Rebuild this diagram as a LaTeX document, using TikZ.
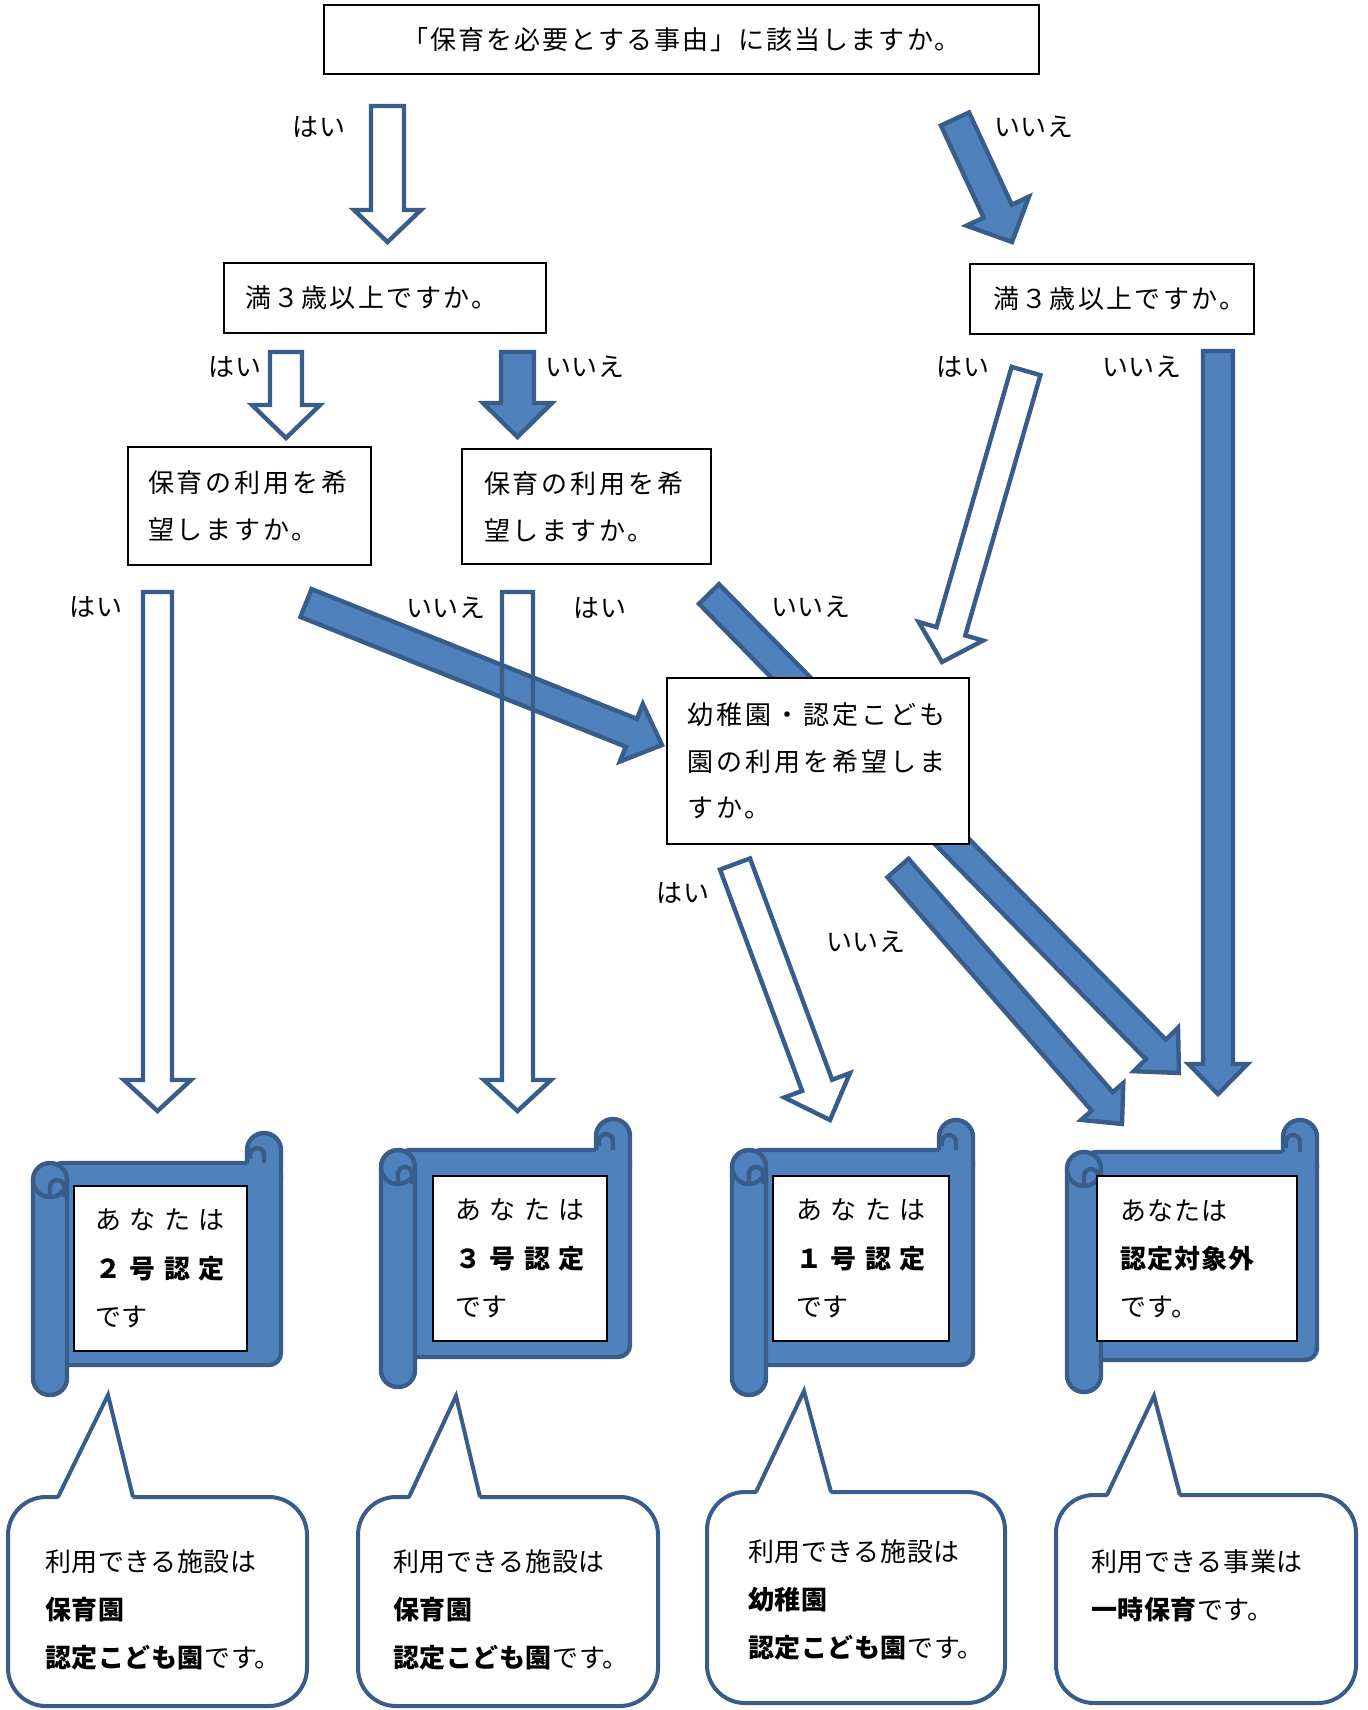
\documentclass[tikz,border=0pt]{standalone}
\usepackage{fontspec}
\setmainfont{Noto Sans CJK JP}
\newfontfamily\jpT[LetterSpace=8]{Noto Sans CJK JP}
\newfontfamily\jpA[LetterSpace=1]{Noto Sans CJK JP}
\newfontfamily\jpQ[LetterSpace=9]{Noto Sans CJK JP}
\newfontfamily\jpC[LetterSpace=11]{Noto Sans CJK JP}
\newfontfamily\jpE[LetterSpace=12]{Noto Sans CJK JP}
\newfontfamily\jpS[LetterSpace=33]{Noto Sans CJK JP}
\newfontfamily\jpF[LetterSpace=4]{Noto Sans CJK JP}
\newfontfamily\jpB[LetterSpace=2]{Noto Sans CJK JP}
\usetikzlibrary{calc}
\definecolor{ablue}{RGB}{79,129,189}
\definecolor{adark}{RGB}{56,93,138}
\tikzset{
  x=0.5pt, y=-0.5pt,
  qbox/.style={draw=black, line width=1pt, fill=white, inner ysep=0pt, align=left},
  lab/.style={inner sep=0pt, font=\jpA\fontsize{13pt}{16pt}\selectfont},
  btext/.style={inner sep=0pt, anchor=west, align=left, font=\jpB\fontsize{13pt}{24pt}\selectfont},
  wArrow/.style={draw=adark, fill=white, line width=2.2pt, line join=miter},
  oArrow/.style={draw=adark, line width=2.2pt, line join=miter},
  bArrow/.style={draw=adark, fill=ablue, line width=2.2pt, line join=miter},
  scrollpart/.style={draw=adark, fill=ablue, line width=2.2pt},
  scrolledge/.style={draw=adark, line width=2.2pt},
  bubble/.style={draw=adark, fill=white, line width=2pt},
}
% #1 style, #2 tail, #3 tip, #4 half shaft, #5 half head, #6 head length
\newcommand\blockarrow[6]{%
  \path ($(#3)!#6!(#2)$) coordinate (bh);
  \draw[#1] ($(#2)!#4!90:(#3)$) -- ($(bh)!#4!90:(#3)$) -- ($(bh)!#5!90:(#3)$) -- (#3)
    -- ($(bh)!#5!-90:(#3)$) -- ($(bh)!#4!-90:(#3)$) -- ($(#2)!#4!-90:(#3)$) -- cycle;}
% L R T0 T B B0
\newcommand\scrollshape[6]{%
  \draw[scrollpart, rounded corners=6pt] ({#1+17},#4) rectangle (#2,#5);
  \fill[ablue] ({#2-34},{#4+17}) -- ({#2-34},{#3+17}) arc[start angle=180,end angle=0,radius=8.5pt] -- (#2,{#4+17}) -- cycle;
  \draw[scrolledge] ({#2-34},#4) -- ({#2-34},{#3+17}) arc[start angle=180,end angle=0,radius=8.5pt] -- (#2,{#4+17});
  \draw[scrolledge] ({#2-17},#4) -- ({#2-17},{#3+22}) arc[start angle=0,end angle=180,radius=3.5pt] -- ({#2-31},{#4-4});
  \draw[scrollpart, rounded corners=8.4pt] (#1,#4) rectangle ({#1+34},#6);
  \draw[scrolledge] (#1,{#4+17}) arc[start angle=180,end angle=360,radius=8.5pt];
  \draw[scrolledge] ({#1+17},{#4+34}) -- ({#1+17},{#4+24}) arc[start angle=180,end angle=0,radius=3.5pt] -- ({#1+31},{#4+34});
}
% L R T B x1 xtip ytip x2
\newcommand\bubbleshape[8]{%
  \draw[bubble, rounded corners=19pt] (#1,#3) rectangle (#2,#4);
  \fill[white] (#5,{#3+3}) -- (#6,#7) -- (#8,{#3+3}) -- cycle;
  \draw[bubble, fill=none, line join=miter] (#5,#3) -- (#6,#7) -- (#8,#3);
}
\begin{document}
\begin{tikzpicture}
\useasboundingbox (0,0) rectangle (1367,1710);
\fill[white] (0,0) rectangle (1367,1710);

% ---- arrow end points ----
\coordinate (a1s) at (387.5,106);  \coordinate (a1e) at (387.5,242);
\coordinate (a2s) at (955,119);    \coordinate (a2e) at (1012,242);
\coordinate (a3s) at (286,352);    \coordinate (a3e) at (286,438);
\coordinate (a4s) at (517.5,352);  \coordinate (a4e) at (517.5,437);
\coordinate (a5s) at (1026,371);   \coordinate (a5e) at (942,662);
\coordinate (a6s) at (1218,351);   \coordinate (a6e) at (1218,1094);
\coordinate (a7s) at (157.5,592);  \coordinate (a7e) at (157.5,1111);
\coordinate (a8s) at (306,603);    \coordinate (a8e) at (662,745);
\coordinate (a9s) at (517.5,592);  \coordinate (a9e) at (517.5,1111);
\coordinate (a10s) at (709,594);   \coordinate (a10e) at (1179,1073);
\coordinate (a11s) at (735,864);   \coordinate (a11e) at (830,1120);
\coordinate (a12s) at (898,868);   \coordinate (a12e) at (1122,1124);

\blockarrow{wArrow}{a1s}{a1e}{8.25pt}{16.75pt}{16pt}
\blockarrow{bArrow}{a2s}{a2e}{7.75pt}{17.25pt}{17pt}
\blockarrow{wArrow}{a3s}{a3e}{8pt}{17pt}{16.5pt}
\blockarrow{bArrow}{a4s}{a4e}{8.25pt}{17.25pt}{17pt}
\blockarrow{wArrow}{a5s}{a5e}{7.5pt}{16.75pt}{16pt}
\blockarrow{bArrow}{a6s}{a6e}{7.5pt}{14.75pt}{15pt}
\blockarrow{wArrow}{a7s}{a7e}{7.25pt}{16.75pt}{15.5pt}
\blockarrow{bArrow}{a8s}{a8e}{7.5pt}{15.5pt}{16.5pt}
\blockarrow{oArrow}{a9s}{a9e}{7.75pt}{16.75pt}{15.5pt}
\blockarrow{bArrow}{a10s}{a10e}{7pt}{15.5pt}{16.5pt}
\blockarrow{wArrow}{a11s}{a11e}{8pt}{17.5pt}{18.5pt}
\blockarrow{bArrow}{a12s}{a12e}{7pt}{14pt}{15pt}

% ---- question boxes ----
\node[qbox, minimum width=357.5pt, minimum height=34.5pt, font=\jpT\fontsize{13pt}{16pt}\selectfont] (q0) at (681.5,39.5) {「保育を必要とする事由」に該当しますか。};
\node[qbox, minimum height=35pt, text width=140pt, inner xsep=10.5pt, font=\jpQ\fontsize{13pt}{16pt}\selectfont] (qa) at (385,298) {満３歳以上ですか。};
\node[qbox, minimum height=35pt, text width=119pt, inner xsep=11.5pt, font=\jpQ\fontsize{13pt}{16pt}\selectfont] (qb) at (1112,299) {満３歳以上ですか。};
\node[qbox, minimum height=59pt, text width=101.5pt, inner xsep=10pt, font=\jpC\fontsize{13pt}{23.5pt}\selectfont] (qc) at (249.5,506) {保育の利用を希\\望しますか。};
\node[qbox, minimum height=57.5pt, text width=102.5pt, inner xsep=11pt, font=\jpC\fontsize{13pt}{23.5pt}\selectfont] (qd) at (586.5,506.5) {保育の利用を希\\望しますか。};
\node[qbox, minimum height=83pt, text width=131pt, inner xsep=10pt, font=\jpE\fontsize{13pt}{23.25pt}\selectfont] (qe) at (818,761) {幼稚園・認定こども\\園の利用を希望しま\\すか。};

% ---- labels ----
\node[lab] (l1) at (319,127) {はい};
\node[lab] (l2) at (1034,127) {いいえ};
\node[lab] (l3) at (235,367) {はい};
\node[lab] (l4) at (585,367) {いいえ};
\node[lab] (l5) at (963,367) {はい};
\node[lab] (l6) at (1142,367) {いいえ};
\node[lab] (l7) at (96,607) {はい};
\node[lab] (l8) at (446,608) {いいえ};
\node[lab] (l9) at (600,608) {はい};
\node[lab] (l10) at (811,607) {いいえ};
\node[lab] (l11) at (683,893) {はい};
\node[lab] (l12) at (866,942) {いいえ};

% ---- scrolls ----
\scrollshape{33}{281}{1133}{1163}{1365}{1395}
\scrollshape{381}{630}{1119}{1150}{1357}{1387}
\scrollshape{732}{973}{1120}{1150}{1365}{1395}
\scrollshape{1067}{1317}{1120}{1152}{1360}{1392}

\node[qbox, minimum width=86.5pt, minimum height=82.5pt, text width=65.5pt, inner xsep=10.5pt, font=\jpS\fontsize{13pt}{24.25pt}\selectfont] (s1) at (160.5,1268.5) {あなたは\\\textbf{２号認定}\\{\jpA です}};
\node[qbox, minimum width=87pt, minimum height=82.5pt, text width=65pt, inner xsep=11pt, font=\jpS\fontsize{13pt}{24.25pt}\selectfont] (s2) at (520,1258.5) {あなたは\\\textbf{３号認定}\\{\jpA です}};
\node[qbox, minimum width=88pt, minimum height=82.5pt, text width=65pt, inner xsep=11.5pt, font=\jpS\fontsize{13pt}{24.25pt}\selectfont] (s3) at (861,1258.5) {あなたは\\\textbf{１号認定}\\{\jpA です}};
\node[qbox, minimum width=100pt, minimum height=82.5pt, text width=77pt, inner xsep=11.5pt, font=\jpF\fontsize{13pt}{24pt}\selectfont] (s4) at (1197,1258.5) {あなたは\\\textbf{認定対象外}\\です。};

% ---- callouts ----
\bubbleshape{8}{307}{1497}{1706}{58}{108}{1395}{133}
\bubbleshape{358}{658}{1497}{1706}{409}{456}{1396}{480}
\bubbleshape{707}{1005}{1492}{1703}{756}{804}{1391}{831}
\bubbleshape{1056}{1356}{1495}{1703}{1107}{1154}{1396}{1180}

\node[btext] (b1) at (45,1610) {利用できる施設は\\\textbf{保育園}\\\textbf{認定こども園}です。};
\node[btext] (b2) at (393,1610) {利用できる施設は\\\textbf{保育園}\\\textbf{認定こども園}です。};
\node[btext] (b3) at (748,1600) {利用できる施設は\\\textbf{幼稚園}\\\textbf{認定こども園}です。};
\node[btext] (b4) at (1091,1586) {利用できる事業は\\\textbf{一時保育}です。};
\end{tikzpicture}
\end{document}
